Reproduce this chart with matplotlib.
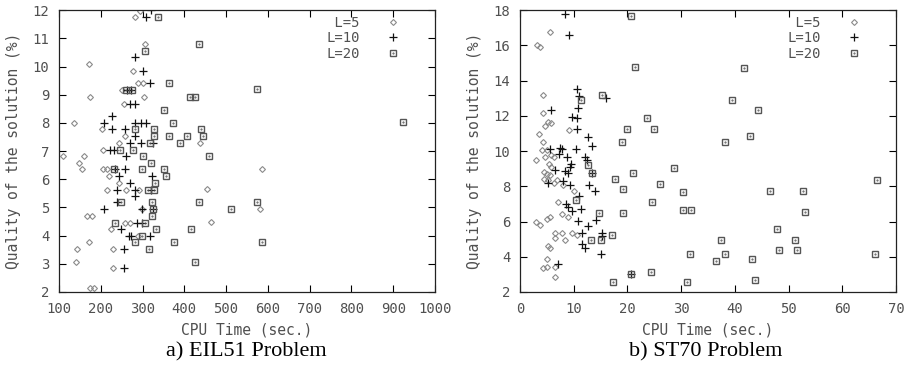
import matplotlib
matplotlib.use("Agg")
import matplotlib.pyplot as plt
from matplotlib.legend_handler import HandlerTuple

# ---- EIL51 (left) : (CPU time, quality %) ----
eil_l5 = [(293, 11.98), (283, 11.76), (307, 10.8), (171, 10.09), (277, 9.85), (289, 9.42),
          (301, 9.42), (251, 9.17), (174, 8.93), (303, 8.93), (255, 8.67), (137, 7.99),
          (204, 7.77), (258, 7.53), (244, 7.28), (437, 7.28), (205, 7.04), (110, 6.82),
          (161, 6.82), (149, 6.59), (154, 6.36), (206, 6.36), (215, 6.36), (219, 6.12),
          (244, 5.87), (216, 5.63), (260, 5.63), (291, 5.63), (299, 4.94), (167, 4.69),
          (180, 4.69), (224, 4.23), (257, 4.46), (270, 4.46), (289, 4.0), (173, 3.78),
          (143, 3.52), (229, 3.52), (141, 3.07), (229, 2.86), (175, 2.13), (183, 2.13),
          (586, 6.36), (455, 5.64), (582, 4.94), (465, 4.47)]
eil_l10 = [(321, 12.0), (309, 11.76), (281, 10.35), (301, 9.85), (317, 9.42), (263, 9.17),
           (273, 9.17), (271, 8.67), (281, 8.67), (228, 8.23), (209, 7.99), (281, 7.99),
           (296, 7.99), (309, 7.99), (228, 7.77), (257, 7.77), (283, 7.53), (270, 7.28),
           (296, 7.28), (325, 7.28), (223, 7.04), (231, 7.04), (261, 6.82), (233, 6.36),
           (257, 6.36), (244, 6.12), (322, 6.12), (269, 5.87), (240, 5.63), (283, 5.63),
           (320, 5.63), (283, 5.41), (239, 5.20), (207, 4.94), (299, 4.94), (325, 4.94),
           (287, 4.46), (299, 4.46), (249, 4.23), (267, 4.0), (273, 4.0), (317, 4.0),
           (256, 3.52), (256, 2.86)]
eil_l20 = [(337, 11.76), (434, 10.8), (307, 10.56), (363, 9.41), (261, 9.17), (275, 9.17),
           (414, 8.93), (426, 8.93), (351, 8.46), (373, 7.99), (283, 7.77), (327, 7.77),
           (441, 7.77), (328, 7.53), (363, 7.53), (407, 7.53), (445, 7.53), (389, 7.28),
           (317, 7.28), (245, 7.04), (277, 7.04), (301, 6.82), (320, 6.59), (232, 6.36),
           (298, 6.36), (351, 6.36), (357, 6.12), (331, 5.87), (314, 5.63), (327, 5.63),
           (249, 5.20), (322, 5.20), (434, 5.20), (325, 4.94), (323, 4.69), (235, 4.46),
           (307, 4.46), (333, 4.23), (417, 4.23), (299, 4.0), (281, 3.78), (375, 3.78),
           (315, 3.52), (426, 3.07), (573, 9.19), (460, 6.83), (924, 8.02), (511, 4.94),
           (574, 5.18), (587, 3.76)]

# ---- ST70 (right) ----
st_l5 = [(5.5, 16.74), (3.1, 16.02), (3.75, 15.89), (4.25, 13.19), (4.2, 12.17), (5.2, 11.64),
         (4.6, 11.45), (5.8, 11.58), (9.2, 11.17), (3.45, 10.98), (4.2, 10.51), (4.05, 10.08),
         (5.1, 10.08), (4.7, 9.66), (5.75, 9.75), (6.4, 9.66), (3.0, 9.5), (5.45, 9.25),
         (5.8, 9.1), (4.55, 8.8), (5.0, 8.68), (5.6, 8.62), (4.5, 8.43), (5.3, 8.34),
         (6.9, 8.34), (6.4, 8.19), (8.1, 8.06), (10.0, 7.74), (7.1, 7.11), (7.8, 6.42),
         (8.9, 6.26), (3.0, 5.98), (3.75, 5.79), (5.0, 6.17), (5.6, 6.25), (6.55, 5.36),
         (7.8, 5.36), (6.55, 5.06), (8.3, 4.94), (9.7, 5.36), (10.6, 5.21), (5.3, 4.6),
         (5.6, 4.47), (5.0, 3.9), (4.2, 3.34), (5.1, 3.43), (6.55, 3.43), (6.45, 2.87)]
st_l10 = [(8.3, 17.77), (9.05, 16.6), (10.6, 13.53), (10.9, 13.15), (16.1, 13.0), (10.75, 12.45),
          (5.8, 12.34), (9.7, 11.96), (10.6, 11.89), (10.6, 11.26), (12.7, 10.8), (13.4, 10.26),
          (5.6, 10.09), (7.5, 10.2), (7.8, 10.09), (10.5, 10.09), (7.2, 9.81), (8.75, 9.66),
          (12.05, 9.66), (12.4, 9.5), (9.56, 9.25), (9.4, 9.1), (6.55, 8.9), (8.4, 8.87),
          (8.9, 8.77), (13.4, 8.77), (5.3, 8.19), (8.1, 8.3), (9.4, 8.06), (12.8, 8.06),
          (13.9, 7.72), (10.9, 7.43), (8.56, 6.98), (8.9, 6.83), (9.7, 6.6), (11.3, 6.7),
          (10.75, 6.02), (12.7, 5.77), (14.2, 6.11), (11.6, 5.36), (15.2, 5.36), (15.2, 5.17),
          (11.6, 4.75), (12.1, 4.47), (15.0, 4.13), (7.0, 3.57), (20.75, 3.02)]
st_l20 = [(20.7, 17.64), (21.4, 14.8), (15.2, 13.19), (11.4, 12.9), (23.6, 11.89), (20.0, 11.26),
          (19.0, 10.51), (12.7, 9.23), (21.1, 8.77), (13.4, 8.77), (17.75, 8.43), (19.2, 7.87),
          (10.5, 7.25), (14.7, 6.51), (19.1, 6.51), (17.2, 5.21), (13.3, 4.94), (15.1, 4.94),
          (20.75, 3.02), (17.4, 2.55), (41.75, 14.7), (39.5, 12.9), (44.25, 12.34), (24.9, 11.28),
          (42.9, 10.83), (38.2, 10.53), (28.6, 9.06), (26.1, 8.15), (30.4, 7.7), (24.5, 7.13),
          (30.4, 6.68), (31.75, 6.68), (37.4, 4.94), (31.6, 4.13), (38.1, 4.15), (36.5, 3.74),
          (43.25, 3.87), (24.3, 3.11), (31.0, 2.55), (43.75, 2.66), (46.6, 7.76), (52.75, 7.76),
          (66.5, 8.34), (53.1, 6.55), (47.8, 5.55), (51.25, 4.97), (48.25, 4.36), (51.6, 4.36),
          (66.1, 4.17)]

series_labels = [" L=5", "L=10", "L=20"]
mono = "DejaVu Sans Mono"
txt_col = "#505050"


def scatter_panel(ax, series, xlim, ylim, xticks, yticks, caption, cap_x):
    l5, l10, l20 = series
    h5, = ax.plot([p[0] for p in l5], [p[1] for p in l5], ls="none", marker="D",
                  ms=3.0, mfc="none", mec="#8a8a8a", mew=0.8)
    h10, = ax.plot([p[0] for p in l10], [p[1] for p in l10], ls="none", marker="+",
                   ms=5.5, mec="#111111", mew=0.9)
    h20, = ax.plot([p[0] for p in l20], [p[1] for p in l20], ls="none", marker="s",
                   ms=4.5, mfc="none", mec="#555555", mew=1.0)
    d20, = ax.plot([p[0] for p in l20], [p[1] for p in l20], ls="none", marker=".",
                   ms=1.0, color="#555555")

    ax.set_xlim(*xlim)
    ax.set_ylim(*ylim)
    ax.set_xticks(xticks)
    ax.set_yticks(yticks)
    ax.tick_params(direction="in", top=True, right=True, length=5, width=0.8,
                   labelsize=10, labelcolor=txt_col, pad=7)
    for lab in ax.get_xticklabels() + ax.get_yticklabels():
        lab.set_family(mono)
    for s in ax.spines.values():
        s.set_linewidth(0.9)
        s.set_color("#222222")

    ax.set_xlabel("CPU Time (sec.)", family=mono, fontsize=10.5, color=txt_col)
    ax.xaxis.set_label_coords(0.5, -0.135)
    ax.xaxis.label.set_va("center")
    ax.set_ylabel("Quality of the solution (%)", family=mono, fontsize=10.5, color=txt_col)
    ax.yaxis.set_label_coords(-0.122, 0.5)
    ax.yaxis.label.set_va("center")

    leg = ax.legend([h5, h10, (h20, d20)], series_labels,
                    handler_map={tuple: HandlerTuple(ndivide=1)},
                    loc="upper right", bbox_to_anchor=(0.907, 0.98),
                    frameon=False, markerfirst=False, handlelength=1.0,
                    handletextpad=1.9, labelspacing=0.1, borderpad=0,
                    borderaxespad=0, prop={"family": mono, "size": 10})
    for t in leg.get_texts():
        t.set_color(txt_col)

    ax.figure.text(cap_x, 0.041, caption, ha="center", va="center",
                   family="Liberation Serif", fontsize=16, color="black")


fig = plt.figure(figsize=(9.07, 3.67), dpi=100)
ax1 = fig.add_axes([0.065, 0.2044, 0.4146, 0.768])
ax2 = fig.add_axes([0.5733, 0.2044, 0.4146, 0.768])

scatter_panel(ax1, (eil_l5, eil_l10, eil_l20), (100, 1000), (2, 12),
              range(100, 1001, 100), range(2, 13), "a) EIL51 Problem", 0.272)
scatter_panel(ax2, (st_l5, st_l10, st_l20), (0, 70), (2, 18),
              range(0, 71, 10), range(2, 19, 2), "b) ST70 Problem", 0.778)

fig.savefig("out.png", dpi=100)
